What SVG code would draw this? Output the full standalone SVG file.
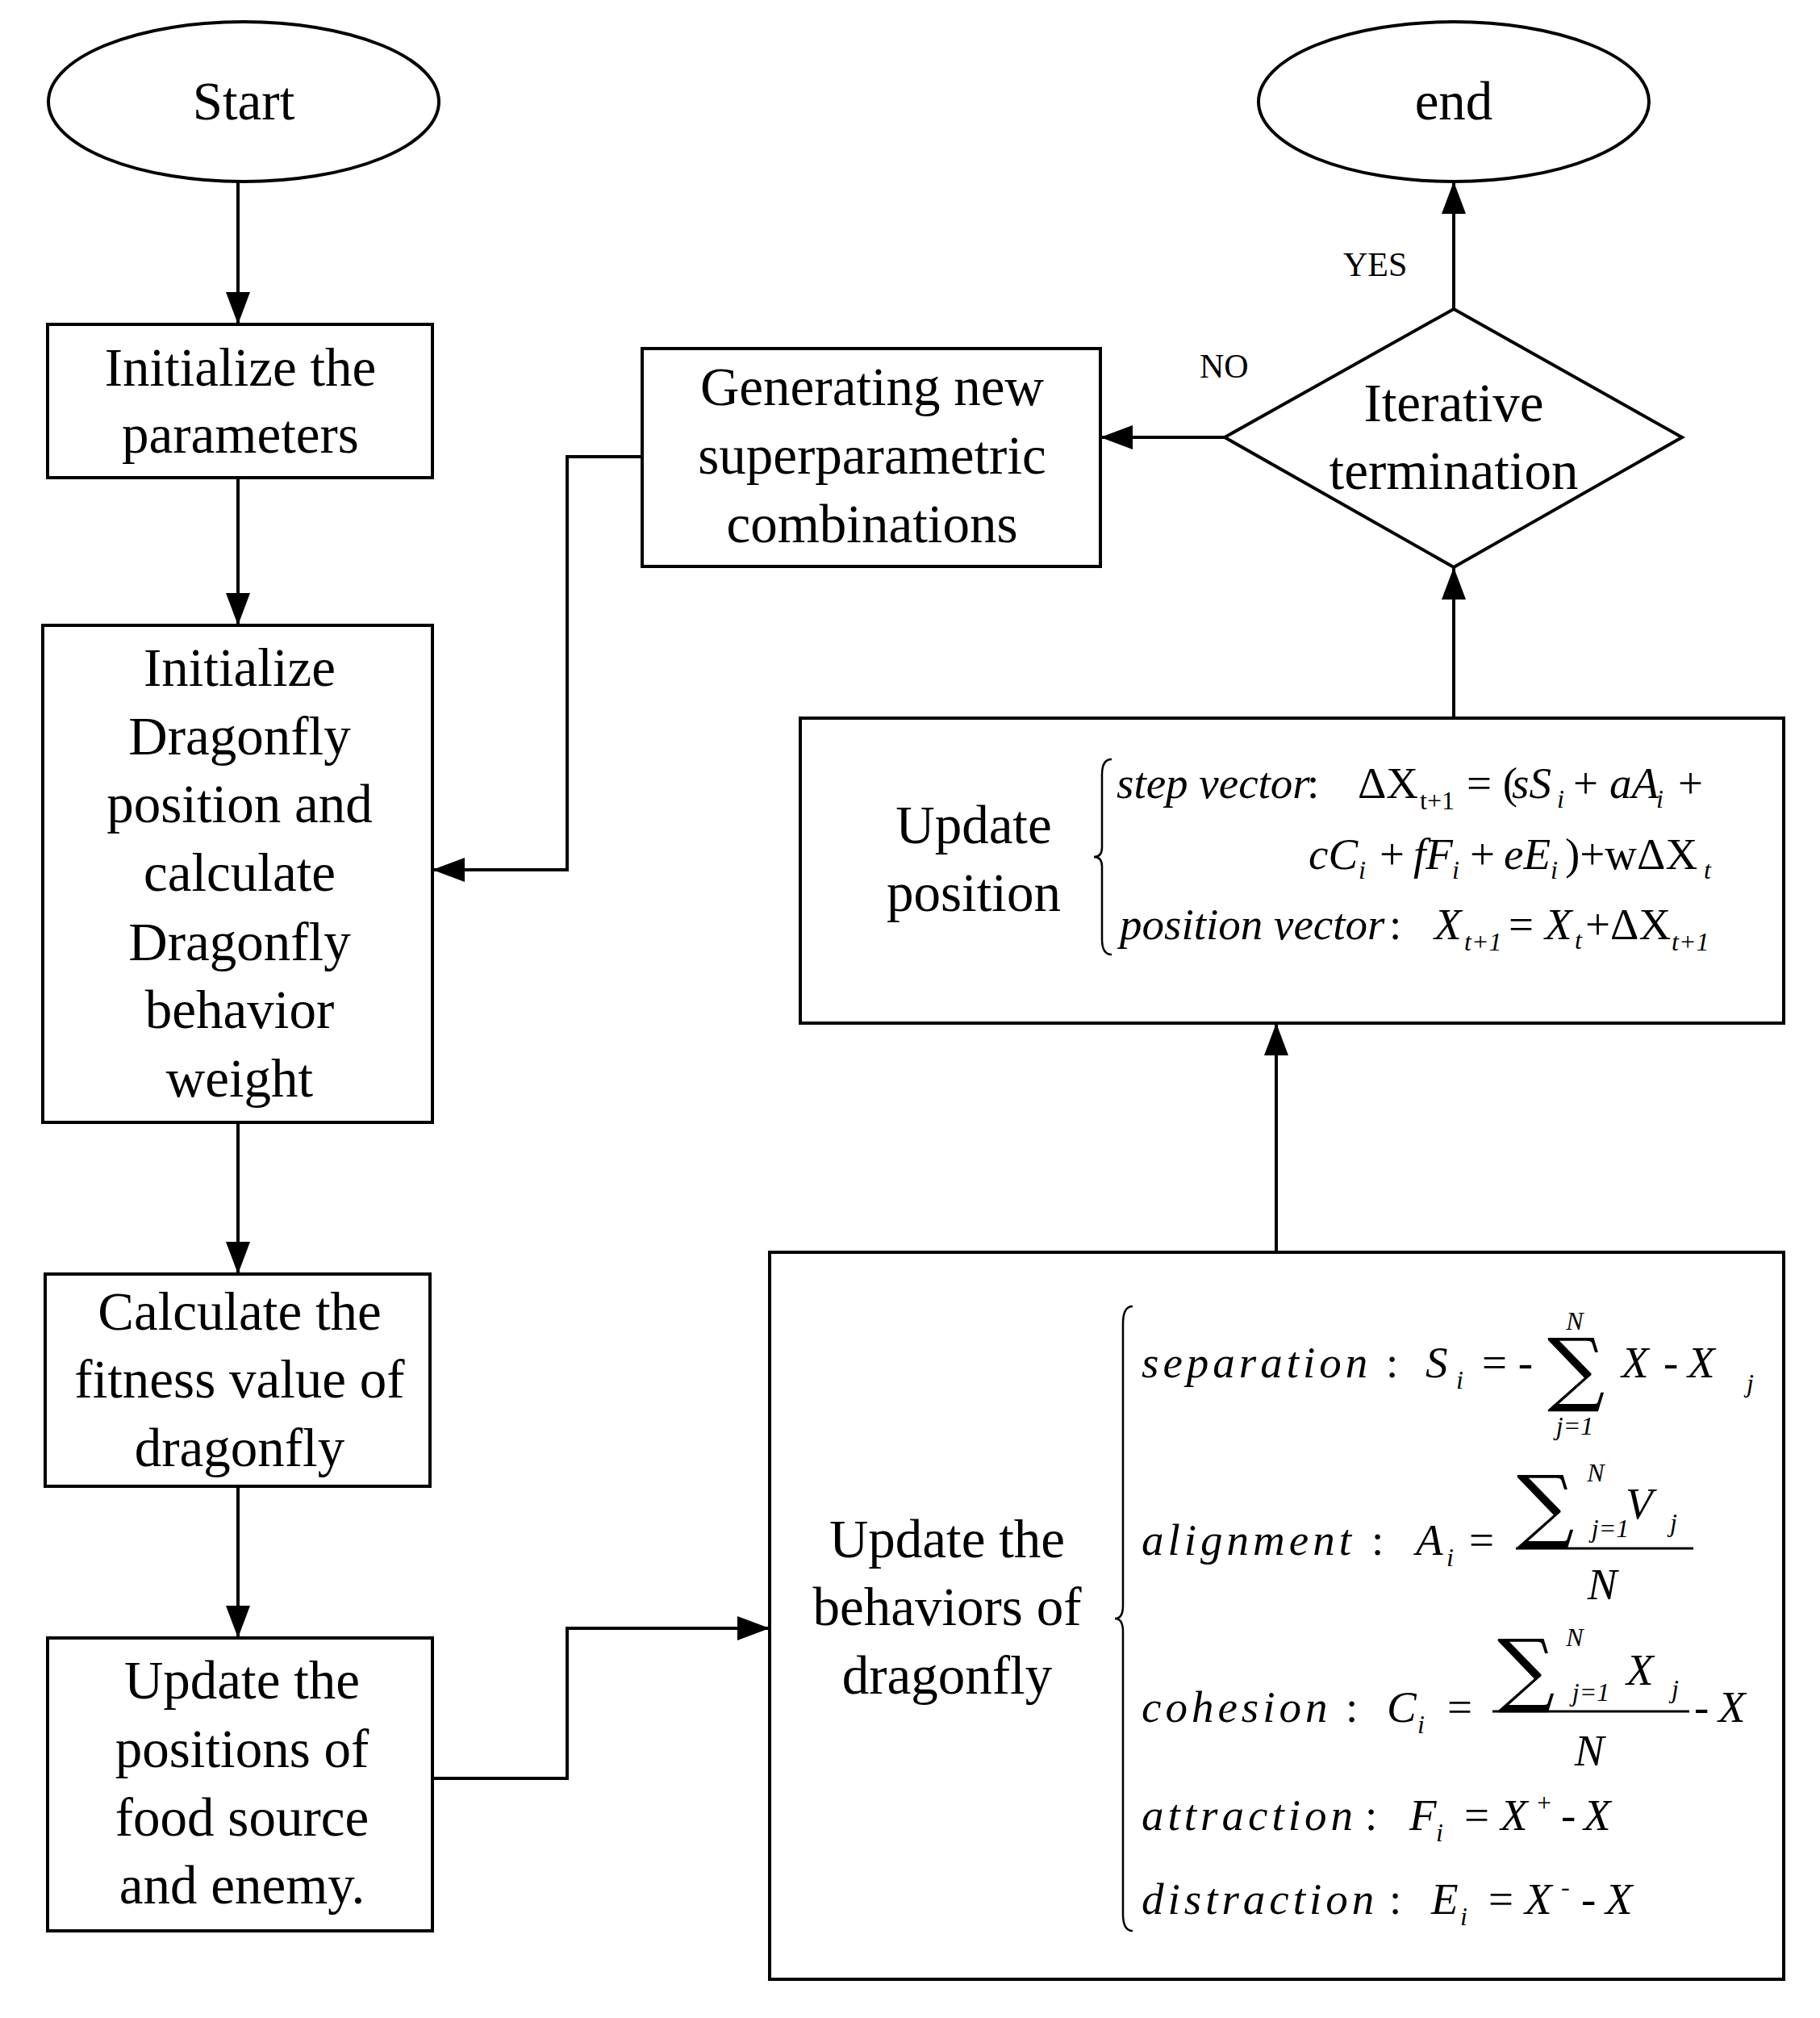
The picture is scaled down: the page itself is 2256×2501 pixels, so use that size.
<svg xmlns="http://www.w3.org/2000/svg" width="2256" height="2501" viewBox="0 0 2256 2501">
<defs>
<marker id="ah2" markerWidth="40" markerHeight="30" refX="40" refY="15" orient="auto" markerUnits="userSpaceOnUse" viewBox="0 0 40 30"><path d="M0,0 L40,15 L0,30 Z" fill="#000"/></marker>
<style>
.n{fill:#fff;stroke:#000;stroke-width:4}
.t{font-family:"Liberation Serif",serif;font-size:67px;text-anchor:middle;fill:#000}
.s{font-family:"Liberation Serif",serif;font-size:42px;fill:#000}
.f{font-family:"Liberation Serif",serif;font-size:55px;font-style:italic;fill:#000}
.r{font-family:"Liberation Serif",serif;font-size:55px;fill:#000}
.fs{font-family:"Liberation Serif",serif;font-size:32px;font-style:italic;fill:#000}
.rs{font-family:"Liberation Serif",serif;font-size:32px;fill:#000}
.sg{font-family:"DejaVu Serif",serif;font-size:100px;fill:#000}
.c{fill:none;stroke:#000;stroke-width:4;marker-end:url(#ah2)}
.b{fill:none;stroke:#000;stroke-width:2.5}
</style>
</defs>
<g id="connectors">
<path class="c" d="M295,225 V402"/>
<path class="c" d="M295,592 V775"/>
<path class="c" d="M295,1391 V1579"/>
<path class="c" d="M295,1842 V2030"/>
<path class="c" d="M536,2204 H703 V2018 H954"/>
<path class="c" d="M1582,1552 V1268"/>
<path class="c" d="M1802,890 V703"/>
<path class="c" d="M1802,383 V225"/>
<path class="c" d="M1518,542 H1364"/>
<path class="c" d="M796,566 H703 V1078 H536"/>
<text class="s" x="1665" y="342">YES</text>
<text class="s" x="1487" y="468">NO</text>
</g>
<g id="start"><ellipse class="n" cx="302" cy="126" rx="242" ry="99"/><text class="t" x="302" y="148">Start</text></g>
<g id="end"><ellipse class="n" cx="1802" cy="126" rx="242" ry="99"/><text class="t" x="1802" y="148">end</text></g>
<g id="init-params"><rect class="n" x="59" y="402" width="477" height="190"/><text class="t" x="298" y="478">Initialize the</text><text class="t" x="298" y="561">parameters</text></g>
<g id="init-dragonfly"><rect class="n" x="53" y="775" width="483" height="616"/>
<text class="t" x="297" y="850">Initialize</text><text class="t" x="297" y="935">Dragonfly</text><text class="t" x="297" y="1019">position and</text><text class="t" x="297" y="1104">calculate</text><text class="t" x="297" y="1190">Dragonfly</text><text class="t" x="297" y="1274">behavior</text><text class="t" x="297" y="1359">weight</text></g>
<g id="calc-fitness"><rect class="n" x="56" y="1579" width="477" height="263"/>
<text class="t" x="297" y="1648">Calculate the</text><text class="t" x="297" y="1732">fitness value of</text><text class="t" x="297" y="1817">dragonfly</text></g>
<g id="update-positions"><rect class="n" x="59" y="2030" width="477" height="363"/>
<text class="t" x="300" y="2105">Update the</text><text class="t" x="300" y="2190">positions of</text><text class="t" x="300" y="2275">food source</text><text class="t" x="300" y="2359">and enemy.</text></g>
<g id="generating"><rect class="n" x="796" y="432" width="568" height="270"/>
<text class="t" x="1081" y="502">Generating new</text><text class="t" x="1081" y="587">superparametric</text><text class="t" x="1081" y="672">combinations</text></g>
<g id="iterative"><path class="n" d="M1802,383 L2085,542 L1802,703 L1518,542 Z"/>
<text class="t" x="1802" y="522">Iterative</text><text class="t" x="1802" y="606">termination</text></g>
<g id="update-position"><rect class="n" x="992" y="890" width="1219" height="378"/>
<text class="t" x="1207" y="1045">Update</text><text class="t" x="1207" y="1129">position</text>
<path class="b" d="M1378,941 Q1366,941 1366,960 V1050 Q1366,1062 1356,1062 Q1366,1062 1366,1074 V1164 Q1366,1183 1378,1183"/>
<text class="f" x="1384" y="989">step vector</text><text class="r" x="1620" y="989">:</text>
<text class="r" x="1683" y="989">ΔX</text><text class="rs" x="1760" y="1003">t+1</text>
<text class="r" x="1818" y="989">= (</text><text class="f" x="1874" y="989">sS</text><text class="fs" x="1930" y="1001">i</text>
<text class="r" x="1950" y="989">+</text><text class="f" x="1995" y="989">aA</text><text class="fs" x="2053" y="1001">i</text><text class="r" x="2080" y="989">+</text>
<text class="f" x="1622" y="1077">cC</text><text class="fs" x="1684" y="1089">i</text>
<text class="r" x="1710" y="1077">+</text><text class="f" x="1752" y="1077">fF</text><text class="fs" x="1800" y="1089">i</text>
<text class="r" x="1822" y="1077">+</text><text class="f" x="1864" y="1077">eE</text><text class="fs" x="1922" y="1089">i</text>
<text class="r" x="1940" y="1077">)+wΔX</text><text class="fs" x="2112" y="1089">t</text>
<text class="f" x="1388" y="1164">position vector</text><text class="r" x="1722" y="1164">:</text>
<text class="f" x="1778" y="1164">X</text><text class="fs" x="1815" y="1178">t+1</text>
<text class="r" x="1870" y="1164">=</text><text class="f" x="1915" y="1164">X</text><text class="fs" x="1952" y="1176">t</text>
<text class="r" x="1965" y="1164">+ΔX</text><text class="fs" x="2072" y="1178">t+1</text>
</g>
<g id="update-behaviors"><rect class="n" x="954" y="1552" width="1257" height="901"/>
<text class="t" x="1174" y="1930">Update the</text><text class="t" x="1174" y="2014">behaviors of</text><text class="t" x="1174" y="2099">dragonfly</text>
<path class="b" d="M1404,1619 Q1392,1619 1392,1640 V1990 Q1392,2006 1382,2006 Q1392,2006 1392,2022 V2372 Q1392,2393 1404,2393"/>
<text class="f" x="1415" y="1707" letter-spacing="5">separation</text><text class="r" x="1718" y="1707">:</text>
<text class="f" x="1767" y="1707">S</text><text class="fs" x="1805" y="1721">i</text><text class="r" x="1837" y="1707">= -</text>
<text class="sg" x="1918" y="1730">∑</text>
<text class="fs" x="1952" y="1648" text-anchor="middle">N</text>
<text class="fs" x="1952" y="1778" text-anchor="middle">j=1</text>
<text class="f" x="2010" y="1707">X</text><text class="r" x="2062" y="1707">-</text><text class="f" x="2092" y="1707">X</text><text class="fs" x="2165" y="1725">j</text>
<text class="f" x="1415" y="1927" letter-spacing="5">alignment</text><text class="r" x="1700" y="1927">:</text>
<text class="f" x="1755" y="1927">A</text><text class="fs" x="1793" y="1941">i</text><text class="r" x="1821" y="1927">=</text>
<text class="sg" x="1880" y="1900">∑</text>
<text class="fs" x="1978" y="1836" text-anchor="middle">N</text>
<text class="fs" x="1996" y="1905" text-anchor="middle">j=1</text>
<text class="f" x="2015" y="1882">V</text><text class="fs" x="2070" y="1898">j</text>
<line x1="1879" y1="1919" x2="2099" y2="1919" stroke="#000" stroke-width="3"/>
<text class="f" x="1986" y="1982" text-anchor="middle">N</text>
<text class="f" x="1415" y="2134" letter-spacing="5">cohesion</text><text class="r" x="1668" y="2134">:</text>
<text class="f" x="1719" y="2134">C</text><text class="fs" x="1757" y="2148">i</text><text class="r" x="1794" y="2134">=</text>
<text class="sg" x="1856" y="2103">∑</text>
<text class="fs" x="1952" y="2040" text-anchor="middle">N</text>
<text class="fs" x="1972" y="2108" text-anchor="middle">j=1</text>
<text class="f" x="2016" y="2088">X</text><text class="fs" x="2072" y="2104">j</text>
<line x1="1850" y1="2121" x2="2094" y2="2121" stroke="#000" stroke-width="3"/>
<text class="f" x="1970" y="2188" text-anchor="middle">N</text>
<text class="r" x="2100" y="2134">-</text><text class="f" x="2130" y="2134">X</text>
<text class="f" x="1415" y="2268" letter-spacing="5">attraction</text><text class="r" x="1692" y="2268">:</text>
<text class="f" x="1747" y="2268">F</text><text class="fs" x="1780" y="2282">i</text><text class="r" x="1815" y="2268">=</text>
<text class="f" x="1860" y="2268">X</text><text class="rs" x="1905" y="2245">+</text><text class="r" x="1935" y="2268">-</text><text class="f" x="1963" y="2268">X</text>
<text class="f" x="1415" y="2372" letter-spacing="5">distraction</text><text class="r" x="1722" y="2372">:</text>
<text class="f" x="1774" y="2372">E</text><text class="fs" x="1810" y="2386">i</text><text class="r" x="1845" y="2372">=</text>
<text class="f" x="1890" y="2372">X</text><text class="rs" x="1935" y="2349">-</text><text class="r" x="1960" y="2372">-</text><text class="f" x="1990" y="2372">X</text>
</g>
</svg>
